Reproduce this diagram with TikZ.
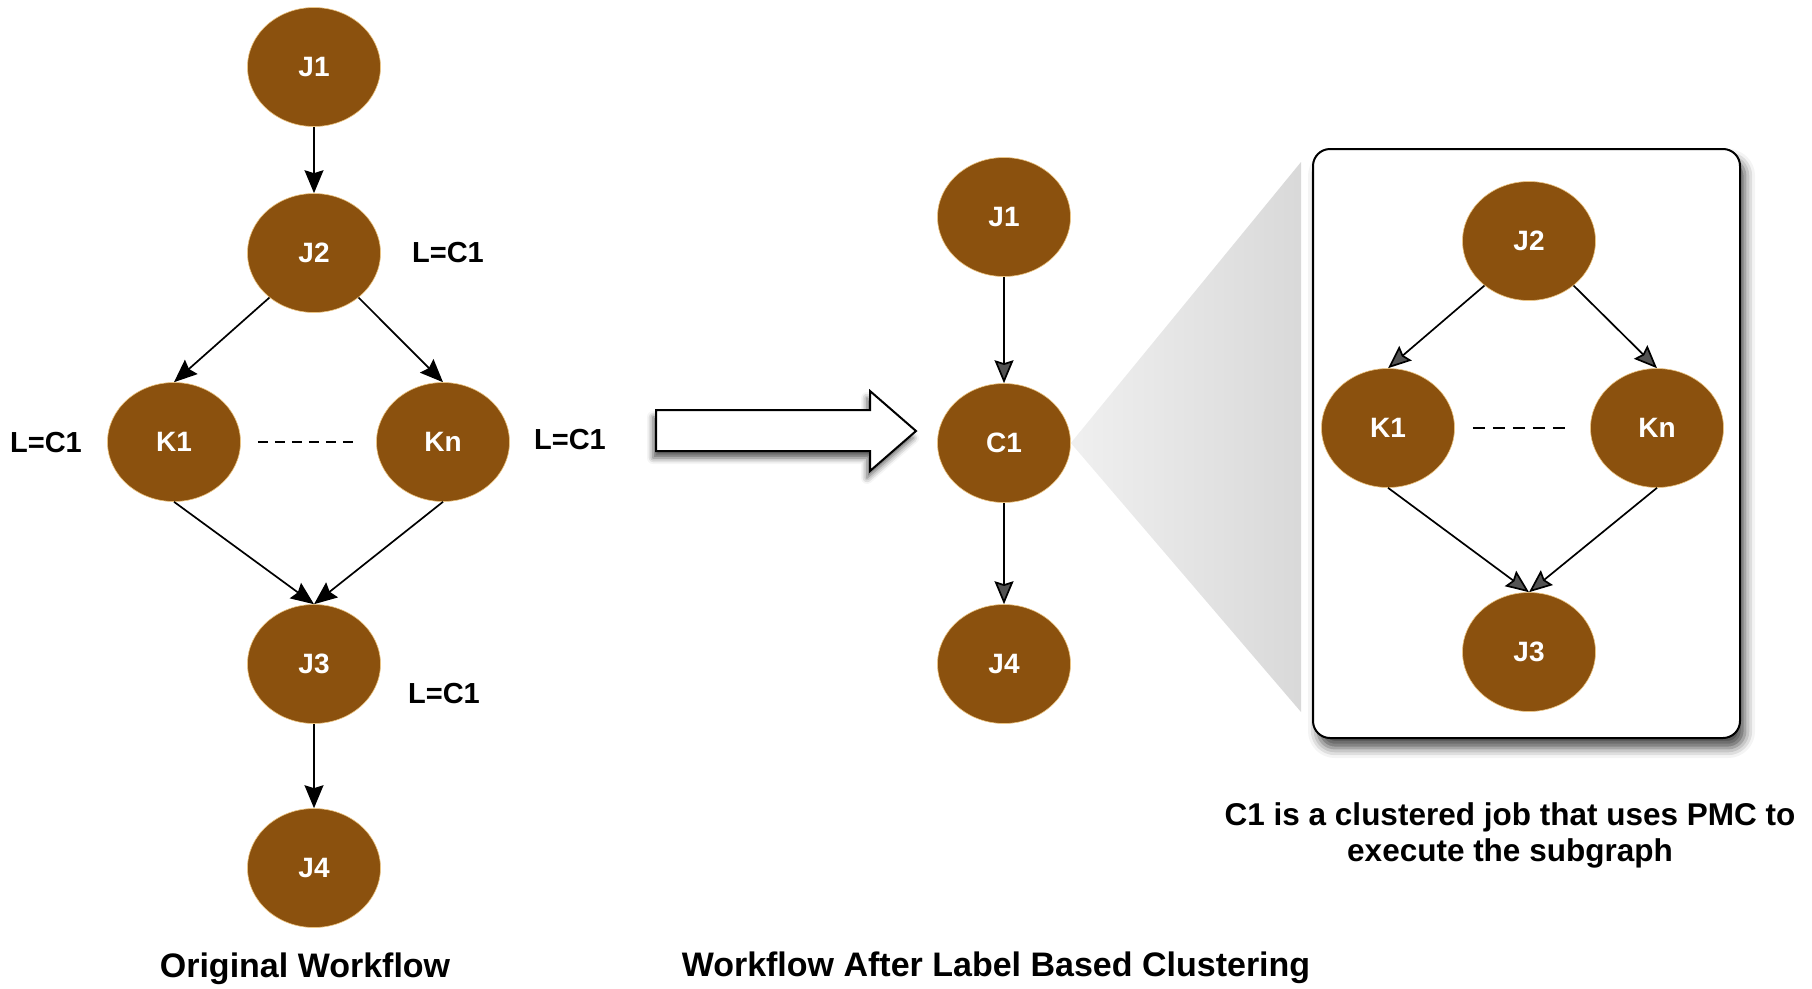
\documentclass[tikz,border=0pt]{standalone}
\usepackage{fontspec}
\setmainfont{Liberation Sans}
\usetikzlibrary{shapes.geometric,arrows.meta,shadows.blur}
\definecolor{jobfill}{RGB}{139,81,14}
\definecolor{jobrim}{RGB}{236,196,128}
\begin{document}
\begin{tikzpicture}[x=1pt,y=-1pt,
  job/.style={ellipse, minimum width=133pt, minimum height=119pt, inner sep=0pt,
    fill=jobfill, draw=jobrim, line width=0.6pt, text=white,
    font=\fontsize{28}{32}\selectfont\bfseries},
  tag/.style={font=\fontsize{29}{33}\selectfont\bfseries, text=black},
  flow/.style={line width=1.7pt, -{Stealth[length=23pt,width=19pt,inset=3pt]}},
  gap/.style={line width=1.4pt, dash pattern=on 10pt off 7pt},
  caption/.style={font=\fontsize{34}{39}\selectfont\bfseries},
]
\useasboundingbox (0,0) rectangle (1812,988);

% ---------- original workflow ----------
\node[job] (oJ1) at (314,67) {J1};
\node[job] (oJ2) at (314,253) {J2};
\node[job] (oK1) at (174,442) {K1};
\node[job] (oKn) at (443,442) {Kn};
\node[job] (oJ3) at (314,664) {J3};
\node[job] (oJ4) at (314,868) {J4};

\draw[flow] (oJ1) -- (oJ2);
\draw[flow] (oJ2.-135) -- (oK1.north);
\draw[flow] (oJ2.-45) -- (oKn.north);
\draw[flow] (oK1.south) -- (oJ3.north);
\draw[flow] (oKn.south) -- (oJ3.north);
\draw[flow] (oJ3) -- (oJ4);
\draw[gap, shorten <=17pt, shorten >=17pt] (oK1.east) -- (oKn.west);

\node[tag] (tJ2) at (448,253) {L=C1};
\node[tag] (tK1) at (46,443) {L=C1};
\node[tag] (tKn) at (570,440) {L=C1};
\node[tag] (tJ3) at (444,694) {L=C1};

\node[caption] (capL) at (305,969) {Original Workflow};

% ---------- transformation arrow ----------
\draw[line width=2pt, line join=miter, fill=white,
  blur shadow={shadow xshift=-3pt, shadow yshift=-7pt, shadow blur radius=6pt, shadow opacity=65}]
  (656,410) -- (870,410) -- (870,391) -- (916,431) -- (870,471) -- (870,451) -- (656,451) -- cycle;

% ---------- clustered workflow ----------
\node[job] (cJ1) at (1004,217) {J1};
\node[job] (cC1) at (1004,443) {C1};
\node[job] (cJ4) at (1004,664) {J4};
\draw[flow] (cJ1) -- (cC1);
\draw[flow] (cC1) -- (cJ4);

\node[caption] (capR) at (996,968) {Workflow After Label Based Clustering};

% zoom wedge from C1 to the expanded subgraph
\coordinate (wTop) at (1301,162);
\coordinate (wBot) at (1301,712);
\shade[left color=black!6, right color=black!15] (cC1.east) -- (wTop) -- (wBot) -- cycle;

% expanded subgraph panel
\node[draw, line width=2pt, rounded corners=17pt, fill=white,
  minimum width=427pt, minimum height=589pt, inner sep=0pt,
  blur shadow={shadow xshift=5pt, shadow yshift=-10pt, shadow blur radius=10pt, shadow opacity=70}]
  (panel) at (1526.5,443.5) {};

\node[job] (sJ2) at (1529,241) {J2};
\node[job] (sK1) at (1388,428) {K1};
\node[job] (sKn) at (1657,428) {Kn};
\node[job] (sJ3) at (1529,652) {J3};

\draw[flow] (sJ2.-135) -- (sK1.north);
\draw[flow] (sJ2.-45) -- (sKn.north);
\draw[flow] (sK1.south) -- (sJ3.north);
\draw[flow] (sKn.south) -- (sJ3.north);
\draw[gap, dash pattern=on 12pt off 8pt, shorten <=18pt, shorten >=24pt] (sK1.east) -- (sKn.west);

\node[font=\fontsize{31.5}{36}\selectfont\bfseries, align=center] (note) at (1510,835)
  {C1 is a clustered job that uses PMC to\\execute the subgraph};
\end{tikzpicture}
\end{document}
